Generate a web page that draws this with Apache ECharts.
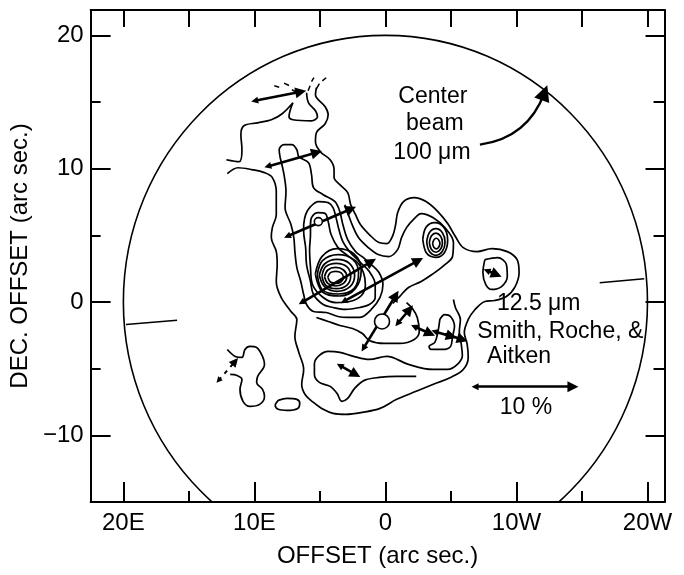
<!DOCTYPE html>
<html lang="en">
<head>
<meta charset="UTF-8">
<title>12.5 um polarization map</title>
<script src="https://cdn.jsdelivr.net/npm/echarts@6.0.0/dist/echarts.min.js"></script>
<style>
  html, body { margin: 0; padding: 0; background: #fff; }
  #main { width: 684px; height: 575px; }
</style>
</head>
<body>
<div id="main"></div>
<script>
// axis ticks (arc sec, east positive)
var xMajor = [20, 10, 0, -10, -20];
var xMinor = [15, 5, -5, -15];
var xTop = [20, 15, 10, 5, 0, -5, -10, -15, -20];
var yMajor = [20, 10, 0, -10];
var yMinor = [15, 5, -5];

// 100 um centre beam: [x, y, radius]
var beam = [[0, 0, 20]];
var beamEdges = [
    [[19.8, -1.69], [15.9, -1.37]],
    [[-16.35, 1.44], [-19.75, 1.74]]
];

// contour lines
var outerTop = [[12.14,10.67],[11.17,10.52],[10.95,11.42],[11.03,12.55],[10.80,13.22],[9.75,13.44],[8.71,13.67],[7.88,14.12],[7.06,14.94],[7.36,13.89],[7.06,13.67],[5.64,13.59],[5.19,13.89],[5.34,14.34],[5.87,14.94],[6.02,15.69]];
var outer = [[5.27,16.07],[5.34,15.54],[4.60,14.64],[4.37,14.04],[4.60,13.37],[5.27,12.70],[5.34,12.02],[4.97,11.27],[4.22,10.67],[3.92,9.93],[3.92,9.33],[3.48,8.80],[2.88,8.20],[2.65,7.30],[2.28,6.55],[1.91,5.81],[1.23,5.06],[0.49,4.46],[-0.11,4.38],[-0.56,4.98],[-0.78,5.81],[-0.93,6.70],[-1.38,7.53],[-2.20,7.83],[-3.10,7.53],[-4.00,6.78],[-4.75,5.88],[-5.34,4.91],[-5.94,4.08],[-6.99,3.78],[-8.11,4.01],[-9.30,3.78],[-10.05,3.18],[-10.20,2.21],[-9.90,1.16],[-9.23,0.41],[-8.33,0.11],[-7.59,0.04],[-6.84,-0.56],[-6.32,-1.31],[-6.02,-2.28],[-6.24,-3.18],[-6.32,-4.16],[-5.94,-5.06],[-4.97,-5.66],[-3.85,-6.10],[-2.35,-6.70],[-0.86,-7.30],[0.41,-7.98],[1.76,-8.28],[3.03,-8.43],[4.00,-8.35],[4.75,-8.05],[5.49,-7.53],[6.09,-7.00],[6.39,-6.18],[6.24,-5.06],[6.61,-3.78],[6.91,-2.58],[6.76,-1.31],[7.21,-0.71],[7.96,0.34],[8.33,1.54],[8.26,2.81],[8.33,3.78],[8.71,4.83],[8.63,5.58],[8.33,6.55],[8.33,7.30],[8.33,8.28],[8.63,9.33],[9.23,9.70],[10.20,9.93],[11.25,10.07],[12.07,9.63]];
var ridge2 = [[8.03,10.82],[8.11,11.42],[7.74,11.80],[7.14,11.80],[6.76,11.42],[6.61,10.90],[5.87,10.45],[5.64,9.55],[5.49,8.58],[4.75,8.05],[3.85,7.53],[3.48,6.78],[3.25,5.81],[2.88,4.68],[2.28,3.78],[1.68,3.33],[1.08,2.81],[0.49,2.21],[0.19,1.31],[0.41,0.34],[1.08,-0.56],[1.98,-1.16],[2.88,-1.16],[3.62,-1.09],[4.52,-0.79],[5.49,-0.71],[6.02,-0.19],[6.24,0.56],[6.46,1.54],[6.76,2.58],[6.91,3.78],[6.99,4.83],[7.21,5.81],[7.66,7.08],[7.59,8.28],[7.74,9.55],[8.03,10.82]];
var ridge3 = [[6.24,5.81],[6.09,6.55],[5.72,7.15],[5.12,7.53],[4.37,7.45],[4.00,7.08],[3.77,6.33],[3.55,5.43],[3.25,4.53],[2.73,3.78],[1.98,3.03],[1.23,2.28],[0.78,1.31],[0.78,0.34],[1.23,-0.19],[1.98,-0.41],[3.03,-0.56],[4.00,-0.41],[4.75,-0.19],[5.49,0.56],[5.72,1.54],[6.02,2.81],[6.09,4.08],[6.24,5.28],[6.24,5.81]];
var ridge4 = [[5.72,5.81],[5.64,6.33],[5.12,6.70],[4.60,6.63],[4.37,6.03],[4.15,5.06],[3.62,4.08],[2.88,3.48],[2.13,2.96],[1.68,2.21],[1.53,1.31],[1.83,0.49],[2.73,0.04],[3.77,-0.04],[4.75,0.34],[5.57,1.31],[5.72,2.58],[5.79,3.93],[5.72,5.06],[5.72,5.81]];
var peak1 = [[4.4,1.85],[4.2,2.2],[3.8,2.3],[3.4,2.2],[3.2,1.85],[3.4,1.5],[3.8,1.4],[4.2,1.5],[4.4,1.85]];
var peak2 = [[4.65,1.9],[4.4,2.4],[3.8,2.6],[3.2,2.4],[2.95,1.9],[3.2,1.4],[3.8,1.2],[4.4,1.4],[4.65,1.9]];
var peak3 = [[4.85,1.95],[4.55,2.65],[3.75,2.9],[2.95,2.65],[2.65,1.95],[2.95,1.25],[3.75,1.0],[4.55,1.25],[4.85,1.95]];
var peak4 = [[5.05,2.0],[4.65,2.85],[3.7,3.2],[2.75,2.9],[2.35,2.0],[2.7,1.15],[3.7,0.8],[4.65,1.15],[5.05,2.0]];
var peak5 = [[5.2,2.05],[4.8,3.1],[3.6,3.55],[2.5,3.2],[2.05,2.2],[2.4,1.0],[3.6,0.6],[4.8,0.9],[5.2,2.05]];
var peak6 = [[5.35,2.1],[4.85,3.4],[3.7,4.0],[2.4,3.6],[1.85,2.4],[2.3,1.0],[3.5,0.45],[4.8,0.75],[5.35,2.1]];
var bridge = [[3.10,7.30],[2.88,6.70],[2.51,5.73],[2.06,4.83],[1.31,4.08],[0.56,3.56],[-0.26,3.41],[-0.93,3.93],[-1.23,4.83],[-1.61,5.58],[-2.13,6.18],[-2.73,6.63],[-3.62,6.33],[-4.60,5.51],[-5.19,4.46],[-5.12,3.41],[-4.45,2.73],[-3.55,2.06],[-2.73,1.54],[-1.76,1.09],[-1.08,0.41],[-0.56,-0.11]];
var knot1 = [[-3.6,4.38],[-3.7,4.66],[-3.88,4.78],[-4.06,4.66],[-4.16,4.38],[-4.06,4.1],[-3.88,3.98],[-3.7,4.1],[-3.6,4.38]];
var knot2 = [[-3.35,4.45],[-3.5,4.95],[-3.85,5.17],[-4.2,4.95],[-4.35,4.45],[-4.2,3.95],[-3.85,3.73],[-3.5,3.95],[-3.35,4.45]];
var knot3 = [[-3.15,4.5],[-3.35,5.2],[-3.85,5.5],[-4.35,5.2],[-4.55,4.5],[-4.35,3.8],[-3.85,3.5],[-3.35,3.8],[-3.15,4.5]];
var knot4 = [[-2.85,4.7],[-3.1,5.6],[-3.75,5.95],[-4.45,5.6],[-4.75,4.65],[-4.5,3.7],[-3.85,3.35],[-3.15,3.65],[-2.85,4.7]];
var westBlob = [[-7.59,3.18],[-8.56,3.33],[-9.23,2.81],[-9.30,1.91],[-8.86,1.16],[-8.11,0.94],[-7.66,1.31],[-7.44,2.21],[-7.59,3.18]];
var southLoop = [[-5.19,0.19],[-5.34,-0.41],[-5.72,-1.31],[-5.64,-2.21],[-5.79,-3.18],[-5.87,-4.01],[-5.49,-4.68],[-4.75,-5.06],[-3.62,-5.06],[-1.76,-4.68],[-0.11,-4.08],[1.23,-4.31],[2.43,-4.08],[3.48,-3.78],[4.37,-3.71],[5.04,-4.01],[5.42,-4.61],[5.42,-5.43],[5.04,-6.03],[4.22,-6.33],[3.70,-6.85],[3.33,-7.45],[2.88,-7.23],[2.35,-6.48],[1.61,-5.88],[0.49,-5.66],[-0.86,-5.58],[-2.35,-5.58]];
var midLoop = [[5.27,-1.16],[4.37,-1.46],[3.48,-1.76],[2.51,-1.99],[1.76,-2.36],[1.23,-2.88],[0.11,-3.11],[-1.08,-3.11],[-2.20,-2.81],[-2.58,-2.21],[-2.43,-1.16],[-2.06,-0.49],[-1.61,-0.04]];
var hook = [[-4.15,-1.31],[-4.52,-0.94],[-4.97,-1.09],[-5.27,-1.84],[-5.12,-2.58],[-4.97,-3.33],[-4.37,-3.56],[-3.48,-3.56],[-3.33,-3.33],[-3.77,-3.03],[-4.0,-2.28],[-4.15,-1.31]];
var eastBlob = [[12.07,-3.56],[11.47,-4.08],[10.95,-4.16],[10.72,-3.56],[10.35,-3.33],[9.83,-3.41],[9.38,-4.08],[9.23,-4.68],[9.75,-5.58],[9.83,-6.03],[9.38,-6.55],[9.23,-7.08],[9.60,-7.68],[10.35,-7.83],[10.87,-7.45],[11.10,-6.55],[10.95,-5.81],[11.32,-5.51],[11.85,-5.43]];
var oval = [[8.18,-7.38],[7.51,-7.23],[6.76,-7.30],[6.54,-7.60],[6.69,-7.98],[7.51,-8.13],[8.18,-8.05],[8.41,-7.75],[8.18,-7.38]];

var contours = [outerTop, outer, ridge2, ridge3, ridge4, peak1, peak2, peak3, peak4, peak5, peak6,
    bridge, knot1, knot2, knot3, knot4, westBlob, southLoop, midLoop, hook, eastBlob, oval];

// broken contour pieces at the top of the filament
var dashes = [
    [[8.48,16.22],[8.11,16.10]], [[7.74,16.42],[7.36,16.24]], [[7.14,15.92],[6.84,15.77]],
    [[5.90,15.84],[5.75,16.22]], [[5.64,16.52],[5.46,16.82]],
    [[5.27,15.99],[5.04,16.37]], [[4.82,16.59],[4.52,16.82]]
];

// polarization vectors (end to end)
var vectors = [
    [[9.98,15.09],[6.46,15.77]],
    [[8.98,10.17],[5.25,11.22]],
    [[7.49,4.93],[2.63,6.98]],
    [[6.39,-0.04],[1.08,3.03]],
    [[3.18,0.04],[-2.50,3.11]],
    [[1.68,-3.48],[-0.78,0.49]],
    [[-0.93,-1.61],[-1.83,-0.56]],
    [[-2.20,-1.84],[-3.40,-2.36]],
    [[-3.77,-2.21],[-5.04,-2.58]],
    [[-4.67,-2.43],[-5.87,-2.81]],
    [[3.48,-4.76],[2.28,-5.43]],
    [[-7.74,2.36],[-8.48,2.06]]
];
var weakVectors = [[[12.74,-5.88],[11.47,-4.46]]];
var scaleBar = [[[-6.84,-6.35],[-14.31,-6.35]]];
var beamPointer = [[[-7.21,11.80],[-12.14,15.70]]];

// small closed contours: [x, y, diameter px]
var knots = [[5.12,6.03,8],[0.26,-1.46,15]];

var notes = [
    [-3.62, 15.39, 'Center'],
    [-3.77, 13.37, 'beam'],
    [-3.55, 11.20, '100 μm'],
    [-11.70, -0.11, '12.5 μm'],
    [-13.34, -2.21, 'Smith, Roche, &'],
    [-10.20, -4.08, 'Aitken'],
    [-10.73, -7.90, '10 %']
];

var FONT = 'Liberation Sans';
var chart = echarts.init(document.getElementById('main'));

function xName(v) {
    if (v > 0) return v + 'E';
    if (v < 0) return (-v) + 'W';
    return '0';
}

function xAx(pos, ticks, len, label) {
    return {
        type: 'value', position: pos, min: -21.3, max: 22.5, inverse: true,
        axisLine: { show: label !== null, onZero: false, lineStyle: { color: '#000', width: 2 } },
        axisTick: { show: true, inside: true, length: len, customValues: ticks, lineStyle: { color: '#000', width: 2 } },
        axisLabel: label ? label : { show: false },
        splitLine: { show: false }
    };
}
function yAx(pos, ticks, len, label) {
    return {
        type: 'value', position: pos, min: -15, max: 21.9,
        axisLine: { show: label !== null, onZero: false, lineStyle: { color: '#000', width: 2 } },
        axisTick: { show: true, inside: true, length: len, customValues: ticks, lineStyle: { color: '#000', width: 2 } },
        axisLabel: label ? label : { show: false },
        splitLine: { show: false }
    };
}

var xBottom = xAx('bottom', xMajor, 20, {
    customValues: xMajor, formatter: xName, color: '#000', fontSize: 24, fontFamily: FONT, margin: 9
});
xBottom.name = 'OFFSET (arc sec.)';
xBottom.nameLocation = 'middle';
xBottom.nameGap = 42;
xBottom.nameTextStyle = { color: '#000', fontSize: 24, fontFamily: FONT };

var yLeft = yAx('left', yMajor, 20, {
    customValues: yMajor, color: '#000', fontSize: 24, fontFamily: FONT, margin: 7,
    formatter: function (v) { return v < 0 ? '\u2212' + (-v) : String(v); }
});
yLeft.name = 'DEC. OFFSET (arc sec.)';
yLeft.nameLocation = 'middle';
yLeft.nameGap = 54;
yLeft.nameTextStyle = { color: '#000', fontSize: 24, fontFamily: FONT };

var series = [];

series.push({
    type: 'custom',
    silent: true,
    data: beam,
    renderItem: function (params, api) {
        var c = api.coord([api.value(0), api.value(1)]);
        var s = api.size([api.value(2), api.value(2)]);
        var cs = params.coordSys;
        return {
            type: 'ellipse',
            shape: { cx: c[0], cy: c[1], rx: s[0], ry: s[1] },
            style: { fill: 'none', stroke: '#000', lineWidth: 1.6 },
            clipPath: { type: 'rect', shape: { x: cs.x, y: cs.y, width: cs.width, height: cs.height } }
        };
    }
});

series.push({
    type: 'lines', coordinateSystem: 'cartesian2d', silent: true,
    symbol: 'none',
    lineStyle: { color: '#000', width: 1.6, opacity: 1 },
    data: beamEdges.map(function (c) { return { coords: c }; })
});

contours.forEach(function (c) {
    series.push({
        type: 'line', data: c, symbol: 'none', smooth: 0.35, silent: true,
        lineStyle: { color: '#000', width: 1.7 }
    });
});

series.push({
    type: 'lines', coordinateSystem: 'cartesian2d', silent: true, symbol: 'none',
    lineStyle: { color: '#000', width: 1.5, opacity: 1 },
    data: dashes.map(function (c) { return { coords: c }; })
});

series.push({
    type: 'lines', coordinateSystem: 'cartesian2d', silent: true,
    symbol: ['triangle', 'triangle'], symbolSize: [7, 11],
    lineStyle: { color: '#000', width: 2.6, opacity: 1 },
    itemStyle: { color: '#000' },
    data: vectors.concat(scaleBar).map(function (c) { return { coords: c }; })
});

series.push({
    type: 'lines', coordinateSystem: 'cartesian2d', silent: true,
    symbol: ['triangle', 'triangle'], symbolSize: [6, 9],
    lineStyle: { color: '#000', width: 2, type: [4, 5], opacity: 1 },
    data: weakVectors.map(function (c) { return { coords: c }; })
});

series.push({
    type: 'lines', coordinateSystem: 'cartesian2d', silent: true,
    symbol: ['none', 'triangle'], symbolSize: [10, 16],
    lineStyle: { color: '#000', width: 2.4, curveness: -0.3, opacity: 1 },
    data: beamPointer.map(function (c) { return { coords: c }; })
});

series.push({
    type: 'scatter', silent: true,
    symbol: 'circle',
    symbolSize: function (v) { return v[2]; },
    itemStyle: { color: '#fff', borderColor: '#000', borderWidth: 1.6, opacity: 1 },
    data: knots
});

series.push({
    type: 'scatter', silent: true, symbolSize: 0,
    itemStyle: { opacity: 1 },
    label: {
        show: true, position: 'inside', color: '#000', fontSize: 23, fontFamily: FONT,
        opacity: 1, textBorderWidth: 0,
        formatter: function (p) { return p.value[2]; }
    },
    data: notes
});

chart.setOption({
    animation: false,
    backgroundColor: '#fff',
    grid: { left: 88, right: 10, top: 10, bottom: 73 },
    xAxis: [
        xBottom,
        xAx('bottom', xMinor, 11, null),
        xAx('top', xTop, 17, false)
    ],
    yAxis: [
        yLeft,
        yAx('left', yMinor, 10, null),
        yAx('right', yMajor, 19, false),
        yAx('right', yMinor, 11, null)
    ],
    series: series
});
</script>
</body>
</html>
